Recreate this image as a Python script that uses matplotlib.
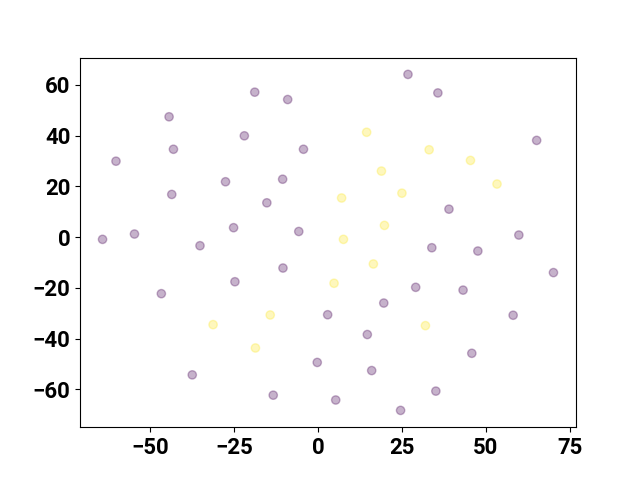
import numpy as np
import matplotlib
matplotlib.use("Agg")
import matplotlib.pyplot as plt

plt.rcParams['font.family'] = ['Roboto', 'DejaVu Sans']
plt.rcParams['font.weight'] = 'bold'
plt.rcParams['font.size'] = 16

# class 0 points (purple)
x0 = [-18.8, -9.0, -44.3, -21.9, -43.0, -4.3, -60.1, -27.5, -10.5, -43.5,
      -15.2, -25.1, -5.7, -64.1, -54.6, -35.1,
      26.8, 35.7, 65.1, 39.0, 59.8,
      33.9, 47.6, 70.1, 29.1, 43.2, 19.6, 2.9, 58.1, 14.7, 45.8,
      16.0, -0.2, 35.1, 5.3, 24.6,
      -10.4, -24.7, -46.6, -37.4, -13.3]
y0 = [57.1, 54.2, 47.4, 39.9, 34.6, 34.6, 29.9, 21.8, 22.8, 16.8,
      13.5, 3.7, 2.2, -0.9, 1.2, -3.4,
      64.1, 56.8, 38.1, 11.0, 0.8,
      -4.2, -5.5, -14.0, -19.8, -20.9, -26.0, -30.6, -30.8, -38.4, -45.8,
      -52.6, -49.4, -60.7, -64.2, -68.3,
      -12.2, -17.6, -22.3, -54.3, -62.3]

# class 1 points (yellow)
x1 = [14.5, 33.1, 45.4, 18.9, 53.3, 7.05, 25.0, 19.8, 7.6, 16.5,
      4.8, 32.0, -14.2, -31.2, -18.6]
y1 = [41.3, 34.4, 30.2, 26.0, 20.9, 15.4, 17.3, 4.6, -0.9, -10.6,
      -18.2, -34.9, -30.7, -34.5, -43.7]

xs = np.array(x0 + x1)
ys = np.array(y0 + y1)
labels = np.array([0] * len(x0) + [1] * len(x1))

fig, ax = plt.subplots(figsize=(6.4, 4.8), dpi=100)
ax.scatter(xs, ys, c=labels, cmap='viridis', alpha=0.3)

fig.savefig("out.png")
